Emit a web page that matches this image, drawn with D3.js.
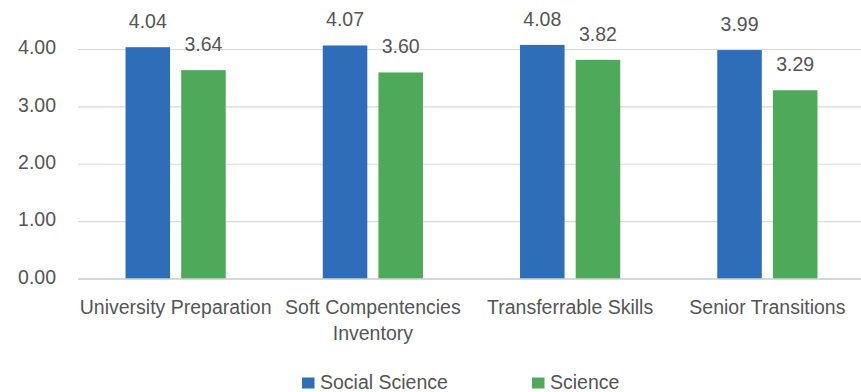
<!DOCTYPE html>
<html><head><meta charset="utf-8">
<script src="https://cdn.jsdelivr.net/npm/d3@7"></script>
<style>body{margin:0;background:#fff}svg{display:block}text{font-family:"Liberation Sans",Arial,sans-serif;fill:#555}</style>
</head><body><svg id="c" width="861" height="392"></svg>
<script>
const categories = ["University Preparation","Soft Compentencies Inventory","Transferrable Skills","Senior Transitions"];
const seriesNames = ["Social Science","Science"];
const socialScience = [4.04,4.07,4.08,3.99];
const science = [3.64,3.60,3.82,3.29];
const yTicks = [0,1,2,3,4];
const colors = ["#2E6DB8","#4EA95B"];

const svg = d3.select("#c");
const W=861;
const FS=19.5;
const y = d3.scaleLinear().domain([0,4]).range([279,49.5]);
const x = d3.scaleBand().domain(categories).range([77,866]).paddingInner(0.492).paddingOuter(0.246);
const xi = d3.scaleBand().domain(seriesNames).range([0,x.bandwidth()]).paddingInner(0.2);

// gridlines
svg.append("g").selectAll("line").data(yTicks).join("line")
  .attr("x1",78).attr("x2",W).attr("y1",d=>y(d)).attr("y2",d=>y(d))
  .attr("stroke","#D9D9D9").attr("stroke-width",1.2);

// y axis labels
const yAxis = d3.axisLeft(y).tickValues(yTicks).tickFormat(d3.format(".2f")).tickSize(0).tickPadding(0);
const ya = svg.append("g").attr("transform","translate(56,-2)").call(yAxis);
ya.select(".domain").remove();
ya.selectAll("text").attr("font-size",FS).attr("fill","#555").attr("dy","0.32em").style("font-family",'"Liberation Sans",Arial,sans-serif');

const data = categories.map((c,i)=>({c, vals:[socialScience[i],science[i]]}));
const g = svg.append("g").selectAll("g").data(data).join("g").attr("transform",d=>`translate(${x(d.c)},0)`);
g.selectAll("rect").data(d=>d.vals.map((v,j)=>({v,s:seriesNames[j],j}))).join("rect")
  .attr("x",d=>xi(d.s)).attr("width",xi.bandwidth())
  .attr("y",d=>y(d.v)).attr("height",d=>y(0)-y(d.v)).attr("fill",d=>colors[d.j]);
g.selectAll("text.v").data(d=>d.vals.map((v,j)=>({v,s:seriesNames[j],j}))).join("text").attr("class","v")
  .attr("x",d=>xi(d.s)+xi.bandwidth()/2).attr("y",d=>y(d.v)-19)
  .attr("text-anchor","middle").attr("font-size",FS).text(d=>d3.format(".2f")(d.v));

// x axis
svg.append("line").attr("x1",78).attr("x2",W).attr("y1",y(0)).attr("y2",y(0)).attr("stroke","#D0D0D0").attr("stroke-width",1.5);
const xa = svg.append("g").attr("transform","translate(0,279)").call(d3.axisBottom(x).tickSize(0).tickPadding(0));
xa.select(".domain").remove();
xa.selectAll("text").remove();
xa.selectAll(".tick").each(function(d){
  const t = d3.select(this).append("text").attr("text-anchor","middle").attr("font-size",FS).attr("y",35).attr("fill","#555");
  const words = d.split(" "); let line=[];
  let ts = t.append("tspan").attr("x",0).attr("dy",0);
  words.forEach(w=>{
    line.push(w); ts.text(line.join(" "));
    if(ts.node().getComputedTextLength()>x.step()-2 && line.length>1){
      line.pop(); ts.text(line.join(" ")); line=[w];
      ts = t.append("tspan").attr("x",0).attr("dy",26).text(w);
    }
  });
});

// legend
const leg = svg.append("g");
const lx=[302,532];
seriesNames.forEach((s,i)=>{
  leg.append("rect").attr("x",lx[i]).attr("y",377.5).attr("width",12.5).attr("height",11).attr("fill",colors[i]);
  leg.append("text").attr("x",lx[i]+18).attr("y",389).attr("font-size",FS).text(s);
});
</script></body></html>
